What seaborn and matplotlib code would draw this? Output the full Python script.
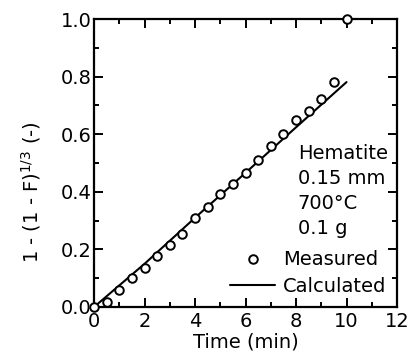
import numpy as np
import pandas as pd
import seaborn as sns
import matplotlib.pyplot as plt
from matplotlib.ticker import MultipleLocator

# measured points
time_meas = [0, 0.5, 1.0, 1.5, 2.0, 2.5, 3.0, 3.5, 4.0, 4.5, 5.0,
             5.5, 6.0, 6.5, 7.0, 7.5, 8.0, 8.5, 9.0, 9.5, 10.0]
conv_meas = [0.0, 0.017, 0.058, 0.099, 0.134, 0.177, 0.215, 0.253, 0.308, 0.347, 0.392,
             0.427, 0.465, 0.512, 0.558, 0.599, 0.649, 0.680, 0.723, 0.781, 1.0]

# calculated curve
time_calc = [0, 2, 4, 6, 8, 10]
conv_calc = [0.0, 0.15, 0.31, 0.466, 0.624, 0.781]

sns.set_style("ticks", {'axes.edgecolor': 'black', 'text.color': 'black',
                        'axes.labelcolor': 'black', 'xtick.color': 'black',
                        'ytick.color': 'black'})
plt.rcParams['font.family'] = ['DejaVu Sans']
plt.rcParams['mathtext.fontset'] = 'dejavusans'

FS = 14

fig = plt.figure(figsize=(4.11, 3.59), dpi=100)
ax = fig.add_axes([0.229, 0.145, 0.737, 0.802])

df_m = pd.DataFrame({'t': time_meas, 'y': conv_meas})
df_c = pd.DataFrame({'t': time_calc, 'y': conv_calc})

sns.lineplot(data=df_c, x='t', y='y', ax=ax, color='black', linewidth=1.5,
             label='Calculated', zorder=2)
sns.scatterplot(data=df_m, x='t', y='y', ax=ax, marker='o', s=38,
                facecolor='white', edgecolor='black', linewidth=1.4,
                label='Measured', clip_on=False, zorder=3)

ax.set_xlim(0, 12)
ax.set_ylim(0, 1.0)
ax.xaxis.set_major_locator(MultipleLocator(2))
ax.xaxis.set_minor_locator(MultipleLocator(1))
ax.yaxis.set_major_locator(MultipleLocator(0.2))
ax.yaxis.set_minor_locator(MultipleLocator(0.1))
ax.set_yticks([0, 0.2, 0.4, 0.6, 0.8, 1.0])
ax.set_yticklabels(['0.0', '0.2', '0.4', '0.6', '0.8', '1.0'])

ax.tick_params(which='both', direction='in', top=True, right=True, labelsize=FS,
               width=1.4, colors='black')
ax.tick_params(axis='x', pad=3.5)
ax.tick_params(axis='y', pad=2)
ax.tick_params(which='major', length=6.5)
ax.tick_params(which='minor', length=3.5)
for sp in ax.spines.values():
    sp.set_linewidth(1.6)
    sp.set_color('black')

ax.set_xlabel('Time (min)', fontsize=FS, labelpad=1, color='black')
ax.set_ylabel('1 - (1 - F)$^{1/3}$ (-)', fontsize=FS, color='black')
ax.yaxis.set_label_coords(-0.168, 0.40)

ax.text(0.672, 0.567, 'Hematite\n0.15 mm\n700\u00b0C\n0.1 g', transform=ax.transAxes,
        fontsize=FS, va='top', ha='left', linespacing=1.4, color='black')

h, l = ax.get_legend_handles_labels()
leg = ax.legend([h[1], h[0]], [l[1], l[0]], loc='lower right', frameon=False, fontsize=FS,
                handlelength=2.3, handletextpad=0.4, borderaxespad=0.25, borderpad=0.3,
                labelspacing=0.45)
for t in leg.get_texts():
    t.set_color('black')

fig.savefig('out.png', dpi=100)
